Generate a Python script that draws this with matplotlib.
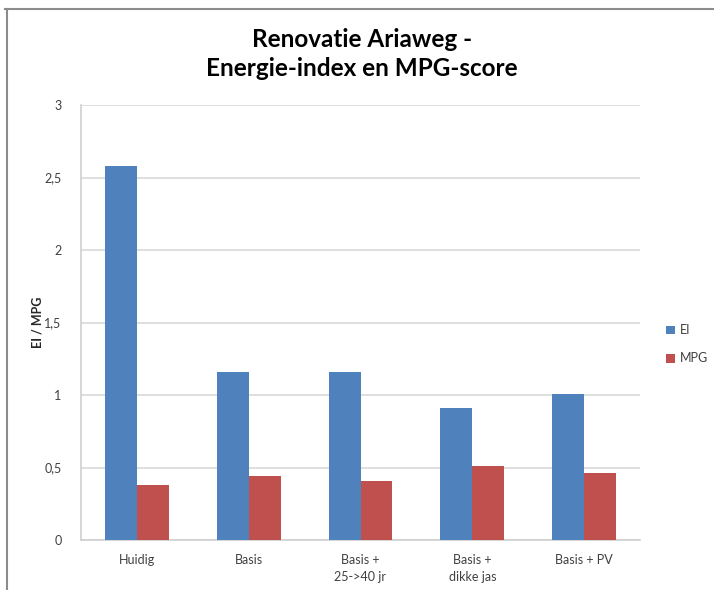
import numpy as np
import matplotlib.pyplot as plt
from matplotlib.lines import Line2D

# scenario labels on the x axis
categories = ['Huidig', 'Basis', 'Basis +\n25->40 jr', 'Basis +\ndikke jas', 'Basis + PV']
ei_values = [2.58, 1.16, 1.16, 0.91, 1.01]
mpg_values = [0.38, 0.44, 0.41, 0.51, 0.46]
y_ticks = [0, 0.5, 1, 1.5, 2, 2.5, 3]
y_tick_labels = ['0', '0,5', '1', '1,5', '2', '2,5', '3']

plt.rcParams['font.family'] = ['Lato', 'DejaVu Sans']

fig = plt.figure(figsize=(7.14, 5.9), dpi=100)
ax = fig.add_axes([81 / 714, 1 - 540 / 590, (640 - 81) / 714, (540 - 105) / 590])

x = np.arange(len(categories))
w = 0.286
ax.bar(x - w / 2, ei_values, w, color='#4F81BD', label='EI', zorder=3)
ax.bar(x + w / 2, mpg_values, w, color='#C0504D', label='MPG', zorder=3)

ax.set_xlim(-0.5, len(categories) - 0.5)
ax.set_ylim(0, 3)
ax.set_yticks(y_ticks)
ax.set_yticklabels(y_tick_labels)
ax.set_xticks(x)
ax.set_xticklabels(categories, linespacing=1.5)
ax.tick_params(length=0, labelsize=9, colors='#404040', pad=10)
ax.tick_params(axis='y', pad=14)
ax.grid(axis='y', color='#D9D9D9', linewidth=1.2, zorder=0)
for side in ['top', 'right']:
    ax.spines[side].set_visible(False)
for side in ['left', 'bottom']:
    ax.spines[side].set_color('#D0D0D0')
    ax.spines[side].set_linewidth(1.2)

ax.set_ylabel('EI / MPG', fontsize=9, fontweight='bold', color='#262626')
ax.yaxis.set_label_coords(-0.067, 0.5)

fig.text(362 / 714, 1 - 54 / 590, 'Renovatie Ariaweg -\nEnergie-index en MPG-score',
         ha='center', va='center', fontsize=17.5, fontweight='bold', linespacing=1.3)

fig.legend(loc='upper left', bbox_to_anchor=(655 / 714, 1 - 313 / 590), frameon=False,
           fontsize=9, handlelength=0.7, handleheight=0.7, handletextpad=0.4,
           labelspacing=1.3, labelcolor='#404040')

# chart border (top and left edges visible in the screenshot)
fig.add_artist(Line2D([5 / 714, 1], [1 - 9 / 590, 1 - 9 / 590], transform=fig.transFigure,
                      color='#8C8C8C', linewidth=1.5))
fig.add_artist(Line2D([7 / 714, 7 / 714], [0, 1 - 9 / 590], transform=fig.transFigure,
                      color='#8C8C8C', linewidth=1.5))

fig.savefig('out.png', dpi=100)
